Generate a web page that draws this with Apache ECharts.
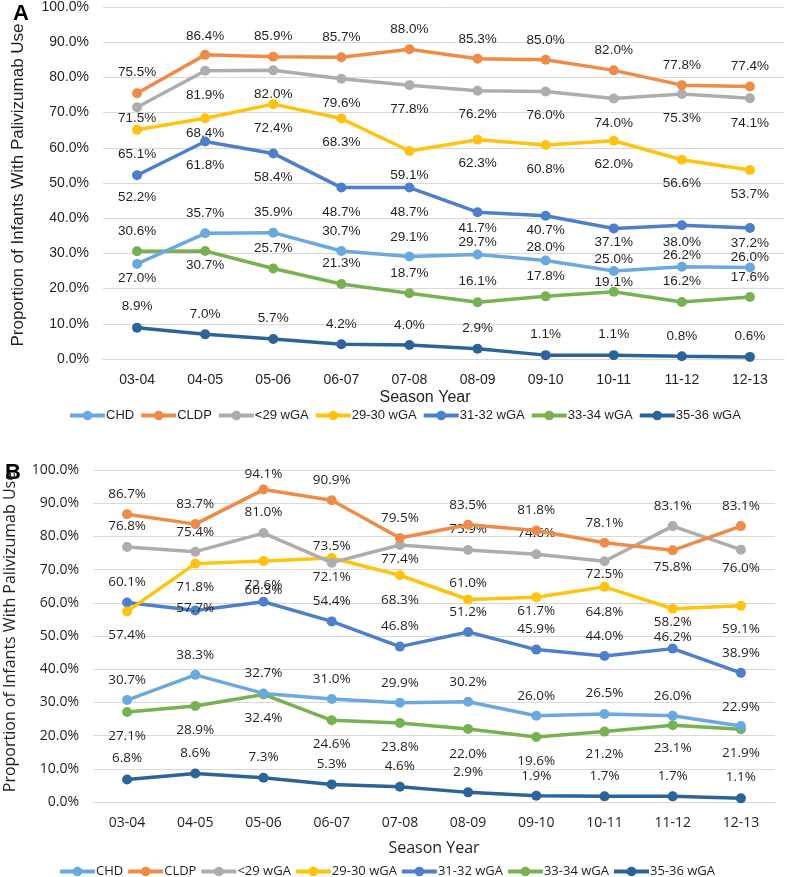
<!DOCTYPE html>
<html>
<head>
<meta charset="utf-8">
<script src="https://cdn.jsdelivr.net/npm/echarts@6/dist/echarts.min.js"></script>
<style>
  html, body { margin: 0; padding: 0; background: #fff; }
  #main { width: 787px; height: 877px; }
</style>
</head>
<body>
<div id="main"></div>
<script>
// season years on the x axis
var seasons = ["03-04", "04-05", "05-06", "06-07", "07-08", "08-09", "09-10", "10-11", "11-12", "12-13"];
var seriesNames = ["CHD", "CLDP", "<29 wGA", "29-30 wGA", "31-32 wGA", "33-34 wGA", "35-36 wGA"];
var yTicks = [0, 10, 20, 30, 40, 50, 60, 70, 80, 90, 100];

// panel A (%)
var aCHD  = [27.0, 35.7, 35.9, 30.7, 29.1, 29.7, 28.0, 25.0, 26.2, 26.0];
var aCLDP = [75.5, 86.4, 85.9, 85.7, 88.0, 85.3, 85.0, 82.0, 77.8, 77.4];
var aLt29 = [71.5, 81.9, 82.0, 79.6, 77.8, 76.2, 76.0, 74.0, 75.3, 74.1];
var a2930 = [65.1, 68.4, 72.4, 68.3, 59.1, 62.3, 60.8, 62.0, 56.6, 53.7];
var a3132 = [52.2, 61.8, 58.4, 48.7, 48.7, 41.7, 40.7, 37.1, 38.0, 37.2];
var a3334 = [30.6, 30.7, 25.7, 21.3, 18.7, 16.1, 17.8, 19.1, 16.2, 17.6];
var a3536 = [8.9, 7.0, 5.7, 4.2, 4.0, 2.9, 1.1, 1.1, 0.8, 0.6];

// panel B (%)
var bCHD  = [30.7, 38.3, 32.7, 31.0, 29.9, 30.2, 26.0, 26.5, 26.0, 22.9];
var bCLDP = [86.7, 83.7, 94.1, 90.9, 79.5, 83.5, 81.8, 78.1, 75.8, 83.1];
var bLt29 = [76.8, 75.4, 81.0, 72.1, 77.4, 75.9, 74.6, 72.5, 83.1, 76.0];
var b2930 = [57.4, 71.8, 72.6, 73.5, 68.3, 61.0, 61.7, 64.8, 58.2, 59.1];
var b3132 = [60.1, 57.7, 60.3, 54.4, 46.8, 51.2, 45.9, 44.0, 46.2, 38.9];
var b3334 = [27.1, 28.9, 32.4, 24.6, 23.8, 22.0, 19.6, 21.2, 23.1, 21.9];
var b3536 = [6.8, 8.6, 7.3, 5.3, 4.6, 2.9, 1.9, 1.7, 1.7, 1.1];

var colors = ["#69A9DF", "#EF8A47", "#ADADAD", "#FFC20E", "#4D7FCB", "#77B150", "#2A6498"];

// vertical shift of each data label from its point (layout only)
var shiftA = [
  [14, -20, -20, -20, -19, -12, -13, -12, -11, -10],
  [-21, -19, -20, -20, -20, -19, -20, -20, -20, -20],
  [11, 25, 24, 24, 24, 24, 24, 25, 24, 25],
  [24, 15, 24, 24, 24, 24, 24, 24, 24, 24],
  [22, 24, 24, 25, 25, 16, 15, 14, 17, 15],
  [-20, 14, -20, -21, -20, -21, -20, -9, -21, -20],
  [-21, -20, -21, -20, -20, -21, -21, -21, -20, -21]
];
var shiftB = [
  [-20, -20, -20, -20, -20, -20, -20, -21, -20, -19],
  [-20, -20, -15, -20, -20, -20, -20, -20, 17, -20],
  [-21, -20, -21, 15, 14, -21, -21, 13, -20, 18],
  [24, 24, 24, -12, 25, -16, 14, 25, 13, 23],
  [-20, -2, -12, -20, -20, -20, -20, -20, -11, -20],
  [24, 24, 24, 24, 24, 25, 24, 23, 23, 24],
  [-21, -20, -21, -20, -21, -20, -20, -20, -20, -21]
];

var panelA = [aCHD, aCLDP, aLt29, a2930, a3132, a3334, a3536];
var panelB = [bCHD, bCLDP, bLt29, b2930, b3132, b3334, b3536];

var fontA = "Liberation Sans, Arial, sans-serif";
var fontB = "Open Sans, Liberation Sans, sans-serif";

function makeSeries(values, shifts, gridIdx, font) {
  return values.map(function (vals, s) {
    return {
      name: seriesNames[s],
      type: "line",
      xAxisIndex: gridIdx,
      yAxisIndex: gridIdx,
      symbol: "circle",
      symbolSize: 10,
      color: colors[s],
      lineStyle: { width: 3.5 },
      z: 10 - s,
      label: {
        show: true,
        position: "inside",
        fontSize: 13.5,
        fontFamily: font,
        color: "#1f1f1f",
        formatter: function (p) { return p.value.toFixed(1) + "%"; }
      },
      data: vals.map(function (v, i) {
        return { value: v, label: { offset: [0, shifts[s][i]] } };
      })
    };
  });
}

function xAxisCfg(gridIdx, font) {
  return {
    type: "category",
    gridIndex: gridIdx,
    data: seasons,
    boundaryGap: true,
    axisTick: { show: false },
    axisLine: { lineStyle: { color: "#d9d9d9", width: 1 } },
    axisLabel: { fontSize: 14, color: "#1f1f1f", margin: 14, fontFamily: font }
  };
}

function yAxisCfg(gridIdx, font) {
  return {
    type: "value",
    gridIndex: gridIdx,
    min: yTicks[0],
    max: yTicks[yTicks.length - 1],
    interval: yTicks[1] - yTicks[0],
    axisLine: { show: false },
    axisTick: { show: false },
    splitLine: { lineStyle: { color: "#d9d9d9", width: 1 } },
    axisLabel: {
      fontSize: 14,
      color: "#1f1f1f",
      margin: 14,
      fontFamily: font,
      formatter: function (v) { return v.toFixed(1) + "%"; }
    }
  };
}

function legendCfg(left, top, font, size, gap) {
  return {
    left: left,
    top: top,
    width: 760,
    itemWidth: 35,
    itemHeight: 12,
    itemGap: gap,
    lineStyle: { width: 4 },
    textStyle: { fontSize: size, color: "#1f1f1f", fontFamily: font, padding: [0, 0, 0, -4] },
    data: seriesNames
  };
}

var chart = echarts.init(document.getElementById("main"));
chart.setOption({
  animation: false,
  backgroundColor: "#ffffff",
  grid: [
    { left: 103, right: 3, top: 7, height: 352 },
    { left: 93, right: 12, top: 470, height: 332 }
  ],
  xAxis: [xAxisCfg(0, fontA), xAxisCfg(1, fontB)],
  yAxis: [yAxisCfg(0, fontA), yAxisCfg(1, fontB)],
  legend: [legendCfg(63, 404, fontA, 13, 5), legendCfg(53, 860, fontB, 13, 3)],
  graphic: [
    { type: "text", x: 21, y: 14, style: { text: "A", fontSize: 22, fontWeight: "bold", fontFamily: fontA, fill: "#000", align: "center", verticalAlign: "middle" } },
    { type: "text", x: 13, y: 473, style: { text: "B", fontSize: 22, fontWeight: "bold", fontFamily: fontA, fill: "#000", align: "center", verticalAlign: "middle" } },
    { type: "text", x: 18, y: 185, rotation: Math.PI / 2, style: { text: "Proportion of Infants With Palivizumab Use", fontSize: 17, fontFamily: fontA, fill: "#1f1f1f", align: "center", verticalAlign: "middle" } },
    { type: "text", x: 10, y: 632, rotation: Math.PI / 2, style: { text: "Proportion of Infants With Palivizumab Use", fontSize: 16, fontFamily: fontB, fill: "#1f1f1f", align: "center", verticalAlign: "middle" } },
    { type: "text", x: 425, y: 398, style: { text: "Season Year", fontSize: 16, fontFamily: fontA, fill: "#1f1f1f", align: "center", verticalAlign: "middle" } },
    { type: "text", x: 434, y: 848, style: { text: "Season Year", fontSize: 16, fontFamily: fontB, fill: "#1f1f1f", align: "center", verticalAlign: "middle" } }
  ],
  series: makeSeries(panelA, shiftA, 0, fontA).concat(makeSeries(panelB, shiftB, 1, fontB))
});
</script>
</body>
</html>
